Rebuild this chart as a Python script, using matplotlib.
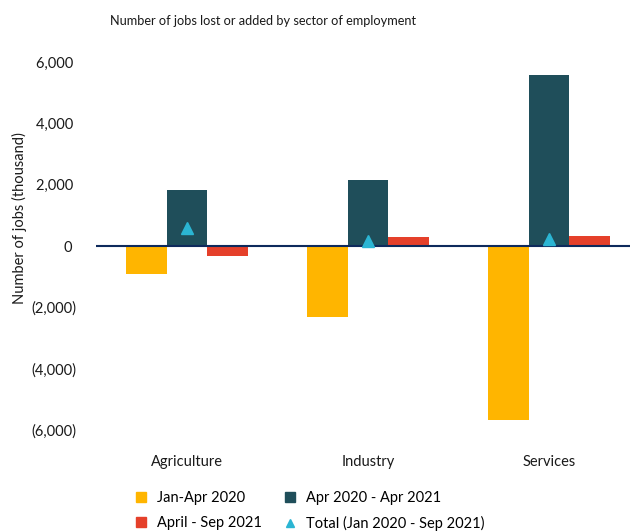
"""Jobs lost or added by sector of employment."""

import matplotlib

matplotlib.use("Agg")

import matplotlib.pyplot as plt  # noqa: E402
from matplotlib.lines import Line2D  # noqa: E402
from matplotlib.ticker import FuncFormatter  # noqa: E402
import numpy as np  # noqa: E402

plt.rcParams["font.family"] = ["Lato", "DejaVu Sans"]

sectors = ["Agriculture", "Industry", "Services"]
jan_apr_2020 = [-910, -2330, -5680]
apr2020_apr2021 = [1820, 2150, 5570]
apr_sep_2021 = [-330, 280, 340]
total_jan2020_sep2021 = [600, 150, 220]

series_labels = [
    "Jan-Apr 2020",
    "Apr 2020 - Apr 2021",
    "April - Sep 2021",
    "Total (Jan 2020 - Sep 2021)",
]
yticks = [-6000, -4000, -2000, 0, 2000, 4000, 6000]

YELLOW = "#FFB500"
TEAL = "#1F4E5A"
RED = "#E5402A"
CYAN = "#2BB5D3"
NAVY = "#0E2A5C"


def fmt_thousands(value, _pos):
    if value < 0:
        return f"({abs(value):,.0f})"
    return f"{value:,.0f} "


fig = plt.figure(figsize=(6.3, 5.31), dpi=100)
ax = fig.add_axes([96 / 630, 101 / 531, 534 / 630, 368 / 531])

x = np.arange(len(sectors))
width = 0.224
ax.bar(x - width, jan_apr_2020, width, color=YELLOW, zorder=2)
ax.bar(x, apr2020_apr2021, width, color=TEAL, zorder=2)
ax.bar(x + width, apr_sep_2021, width, color=RED, zorder=2)
ax.axhline(0, color=NAVY, linewidth=1.5, zorder=3)
ax.plot(x, total_jan2020_sep2021, linestyle="none", marker="^", markersize=9,
        color=CYAN, zorder=4)

ax.set_xlim(-0.503, 2.448)
ax.set_ylim(-6000, 6000)
ax.set_yticks(yticks)
ax.yaxis.set_major_formatter(FuncFormatter(fmt_thousands))
ax.set_xticks(x)
ax.set_xticklabels(sectors)
ax.tick_params(axis="both", length=0, labelsize=10.5, colors="#1a1a1a")
ax.tick_params(axis="x", pad=18)
ax.tick_params(axis="y", pad=14)
for spine in ax.spines.values():
    spine.set_visible(False)

fig.text(263 / 630, 1 - 21 / 531, "Number of jobs lost or added by sector of employment",
         ha="center", va="center", fontsize=9.2, color="#1a1a1a")
fig.text(19 / 630, 1 - 218 / 531, "Number of jobs (thousand)", rotation=90,
         ha="center", va="center", fontsize=10.5, color="#1a1a1a")

handles = [
    Line2D([], [], linestyle="none", marker="s", markersize=7, color=YELLOW),
    Line2D([], [], linestyle="none", marker="s", markersize=7, color=RED),
    Line2D([], [], linestyle="none", marker="s", markersize=7, color=TEAL),
    Line2D([], [], linestyle="none", marker="^", markersize=6, color=CYAN),
]
labels = [series_labels[0], series_labels[2], series_labels[1], series_labels[3]]
fig.legend(handles, labels, ncol=2, loc="center", bbox_to_anchor=(309 / 630, 1 - 511 / 531),
           frameon=False, fontsize=10.5, handlelength=1.0, handletextpad=0.6,
           columnspacing=1.4, labelspacing=0.75)

fig.savefig("out.png", dpi=100)
